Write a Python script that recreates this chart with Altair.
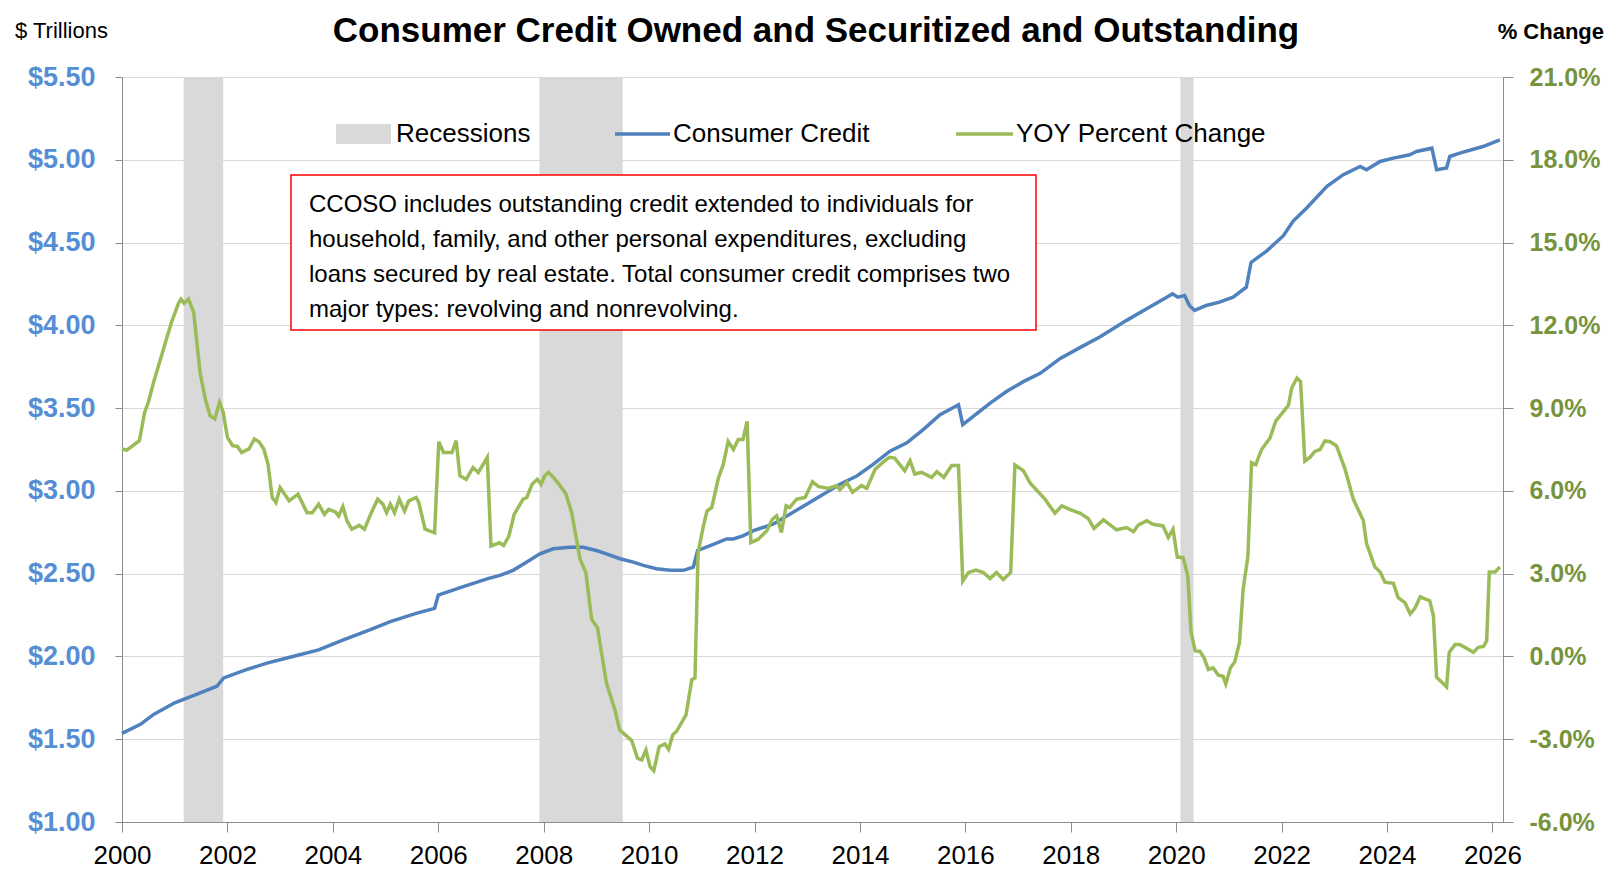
import altair as alt
import pandas as pd

# ---------------- data ----------------
cc_year = [2000.0, 2000.35, 2000.6, 2001.0, 2001.4, 2001.8, 2001.93, 2002.36, 2002.75, 2003.24,
           2003.73, 2004.2, 2004.7, 2005.09, 2005.58, 2005.93, 2006.0, 2006.46, 2006.94, 2007.17,
           2007.42, 2007.68, 2007.93, 2008.18, 2008.5, 2008.75, 2009.0, 2009.19, 2009.45, 2009.7,
           2009.89, 2010.14, 2010.4, 2010.65, 2010.84, 2010.92, 2011.16, 2011.47, 2011.6, 2011.79,
           2011.98, 2012.36, 2012.99, 2013.62, 2013.94, 2014.25, 2014.57, 2014.89, 2015.2, 2015.52,
           2015.87, 2015.95, 2016.15, 2016.47, 2016.78, 2017.1, 2017.42, 2017.8, 2018.2, 2018.55,
           2019.06, 2019.44, 2019.82, 2019.93, 2020.03, 2020.16, 2020.25, 2020.35, 2020.57, 2020.82,
           2021.08, 2021.33, 2021.42, 2021.72, 2022.03, 2022.22, 2022.48, 2022.86, 2023.17, 2023.49,
           2023.61, 2023.87, 2024.12, 2024.43, 2024.56, 2024.85, 2024.94, 2025.13, 2025.19, 2025.38,
           2025.82, 2026.14]
cc_value = [1.535, 1.59, 1.65, 1.72, 1.77, 1.82, 1.87, 1.92, 1.96, 2.00,
            2.04, 2.10, 2.16, 2.21, 2.26, 2.29, 2.37, 2.42, 2.47, 2.49,
            2.52, 2.57, 2.62, 2.65, 2.66, 2.66, 2.64, 2.62, 2.59, 2.57,
            2.55, 2.53, 2.52, 2.52, 2.54, 2.64, 2.67, 2.71, 2.71, 2.73,
            2.76, 2.80, 2.92, 3.04, 3.09, 3.16, 3.24, 3.29, 3.37, 3.46,
            3.52, 3.40, 3.45, 3.53, 3.60, 3.66, 3.71, 3.80, 3.87, 3.93,
            4.03, 4.10, 4.17, 4.19, 4.17, 4.18, 4.12, 4.09, 4.12, 4.14,
            4.17, 4.23, 4.38, 4.45, 4.54, 4.63, 4.71, 4.84, 4.91, 4.96,
            4.94, 4.99, 5.01, 5.03, 5.05, 5.07, 4.94, 4.95, 5.02, 5.04,
            5.08, 5.12]

yoy_year = [2000.0, 2000.09, 2000.33, 2000.43, 2000.5, 2000.6, 2000.77, 2000.94, 2001.07, 2001.12,
            2001.18, 2001.26, 2001.36, 2001.48, 2001.58, 2001.67, 2001.76, 2001.85, 2001.92, 2002.0,
            2002.1, 2002.19, 2002.27, 2002.41, 2002.51, 2002.6, 2002.69, 2002.77, 2002.85, 2002.92,
            2003.0, 2003.17, 2003.34, 2003.51, 2003.61, 2003.73, 2003.84, 2003.92, 2004.05, 2004.11,
            2004.19, 2004.27, 2004.36, 2004.5, 2004.6, 2004.73, 2004.85, 2004.95, 2005.02, 2005.09,
            2005.17, 2005.26, 2005.36, 2005.44, 2005.58, 2005.63, 2005.75, 2005.93, 2006.01, 2006.1,
            2006.26, 2006.34, 2006.41, 2006.53, 2006.66, 2006.76, 2006.93, 2007.0, 2007.16, 2007.24,
            2007.34, 2007.44, 2007.61, 2007.68, 2007.78, 2007.88, 2007.95, 2008.02, 2008.09, 2008.19,
            2008.31, 2008.42, 2008.53, 2008.69, 2008.8, 2008.91, 2009.02, 2009.19, 2009.35, 2009.44,
            2009.67, 2009.78, 2009.86, 2009.94, 2010.02, 2010.09, 2010.19, 2010.3, 2010.37, 2010.45,
            2010.52, 2010.7, 2010.81, 2010.87, 2010.93, 2011.03, 2011.1, 2011.19, 2011.31, 2011.41,
            2011.5, 2011.6, 2011.69, 2011.78, 2011.86, 2011.93, 2012.07, 2012.23, 2012.34, 2012.42,
            2012.51, 2012.6, 2012.67, 2012.8, 2012.96, 2013.1, 2013.21, 2013.4, 2013.56, 2013.62,
            2013.75, 2013.86, 2014.03, 2014.13, 2014.29, 2014.44, 2014.56, 2014.66, 2014.85, 2014.95,
            2015.04, 2015.17, 2015.36, 2015.46, 2015.59, 2015.74, 2015.87, 2015.95, 2016.06, 2016.2,
            2016.34, 2016.47, 2016.59, 2016.72, 2016.86, 2016.94, 2017.1, 2017.23, 2017.51, 2017.7,
            2017.83, 2017.99, 2018.18, 2018.33, 2018.44, 2018.62, 2018.87, 2019.06, 2019.19, 2019.28,
            2019.44, 2019.56, 2019.75, 2019.85, 2019.94, 2020.02, 2020.13, 2020.22, 2020.28, 2020.36,
            2020.45, 2020.53, 2020.61, 2020.70, 2020.8, 2020.89, 2020.94, 2021.03, 2021.11, 2021.2,
            2021.27, 2021.36, 2021.43, 2021.51, 2021.62, 2021.78, 2021.89, 2022.0, 2022.13, 2022.19,
            2022.29, 2022.36, 2022.44, 2022.54, 2022.63, 2022.73, 2022.82, 2022.92, 2023.04, 2023.2,
            2023.36, 2023.55, 2023.61, 2023.77, 2023.87, 2023.96, 2024.12, 2024.21, 2024.34, 2024.44,
            2024.53, 2024.63, 2024.72, 2024.81, 2024.88, 2024.94, 2025.13, 2025.18, 2025.29, 2025.38,
            2025.64, 2025.73, 2025.83, 2025.89, 2025.94, 2026.05, 2026.14]
yoy_value = [7.52, 7.48, 7.82, 8.85, 9.21, 9.94, 11.03, 12.12, 12.79, 12.95,
             12.8, 12.95, 12.48, 10.3, 9.33, 8.73, 8.61, 9.21, 8.85, 7.94,
             7.64, 7.61, 7.39, 7.52, 7.88, 7.78, 7.52, 6.97, 5.76, 5.58,
             6.12, 5.64, 5.88, 5.21, 5.21, 5.52, 5.15, 5.33, 5.24, 5.09,
             5.43, 4.91, 4.61, 4.75, 4.61, 5.21, 5.70, 5.52, 5.21, 5.52,
             5.21, 5.70, 5.27, 5.64, 5.76, 5.58, 4.61, 4.48, 7.78, 7.39,
             7.39, 7.82, 6.55, 6.42, 6.85, 6.67, 7.21, 4.0, 4.12, 4.02,
             4.36, 5.15, 5.70, 5.76, 6.24, 6.42, 6.24, 6.55, 6.67, 6.48,
             6.19, 5.9, 5.22, 3.52, 3.04, 1.34, 1.04, -0.96, -1.93, -2.66,
             -3.05, -3.69, -3.75, -3.39, -4.0, -4.14, -3.27, -3.17, -3.36, -2.84,
             -2.72, -2.12, -0.84, -0.78, 3.76, 4.73, 5.28, 5.4, 6.43, 6.98,
             7.79, 7.5, 7.86, 7.86, 8.52, 4.13, 4.25, 4.55, 4.98, 5.1,
             4.49, 5.46, 5.4, 5.7, 5.76, 6.33, 6.16, 6.09, 6.19, 6.04,
             6.31, 5.95, 6.19, 6.09, 6.79, 7.04, 7.22, 7.19, 6.73, 7.1,
             6.61, 6.67, 6.49, 6.7, 6.49, 6.92, 6.92, 2.73, 3.04, 3.13,
             3.04, 2.82, 3.04, 2.79, 3.04, 6.94, 6.73, 6.28, 5.7, 5.19,
             5.46, 5.32, 5.19, 5.0, 4.64, 4.95, 4.59, 4.67, 4.52, 4.76,
             4.92, 4.79, 4.73, 4.31, 4.61, 3.6, 3.58, 2.92, 0.9, 0.2,
             0.19, -0.06, -0.47, -0.41, -0.68, -0.72, -1.0, -0.41, -0.2, 0.5,
             2.44, 3.62, 7.02, 6.95, 7.5, 7.92, 8.54, 8.79, 9.1, 9.72,
             10.09, 9.96, 7.08, 7.22, 7.43, 7.5, 7.81, 7.78, 7.64, 6.81,
             5.70, 4.93, 4.10, 3.24, 3.06, 2.69, 2.65, 2.13, 1.95, 1.54,
             1.75, 2.16, 2.09, 2.02, 1.47, -0.75, -1.1, 0.15, 0.43, 0.43,
             0.15, 0.33, 0.36, 0.57, 3.06, 3.06, 3.24]

rec_start = [2001.17, 2007.92, 2020.08]
rec_end = [2001.92, 2009.5, 2020.33]

left_ticks = [1.0, 1.5, 2.0, 2.5, 3.0, 3.5, 4.0, 4.5, 5.0, 5.5]
right_ticks = [-6, -3, 0, 3, 6, 9, 12, 15, 18, 21]
x_ticks = list(range(2000, 2027, 2))

title_text = "Consumer Credit Owned and Securitized and Outstanding"
note_lines = [
    "CCOSO includes outstanding credit extended to individuals for",
    "household, family, and other personal expenditures, excluding",
    "loans secured by real estate. Total consumer credit comprises two",
    "major types: revolving and nonrevolving.",
]

# ---------------- style ----------------
FONT = "Liberation Sans"
BLUE = "#4F81BD"
GREEN = "#9BBB59"
BLUE_LBL = "#558ED5"
GREEN_LBL = "#77933C"
REC = "#D9D9D9"
AXIS = "#8C8C8C"
W, H = 1381, 745

cc_df = pd.DataFrame({"year": cc_year, "value": cc_value})
yoy_df = pd.DataFrame({"year": yoy_year, "value": yoy_value})
rec_df = pd.DataFrame({"start": rec_start, "end": rec_end, "top": 5.5, "bottom": 1.0})

xscale = alt.Scale(domain=[2000, 2026.2], nice=False, zero=False)
xaxis = alt.Axis(values=x_ticks, format="d", title=None, grid=False,
                 labelFont=FONT, labelFontSize=26, labelColor="black",
                 tickSize=10, tickColor=AXIS, domainColor=AXIS, labelPadding=10,
                 labelFlush=False)

left_scale = alt.Scale(domain=[1.0, 5.5], nice=False, zero=False)
left_axis = alt.Axis(values=left_ticks, format="$.2f", title=None, orient="left",
                     labelFont=FONT, labelFontSize=27, labelFontWeight="bold",
                     labelColor=BLUE_LBL, tickSize=7, tickColor=AXIS,
                     domainColor=AXIS, gridColor="#D9D9D9", grid=True, labelPadding=20)
right_axis = alt.Axis(values=right_ticks, title=None, orient="right",
                      labelExpr="replace(format(datum.value, '.1f'), '\u2212', '-') + '%'",
                      labelFont=FONT, labelFontSize=25, labelFontWeight="bold",
                      labelColor=GREEN_LBL, tickSize=10, tickColor=AXIS,
                      domainColor=AXIS, grid=False, labelPadding=16)

rec = alt.Chart(rec_df).mark_rect(color=REC).encode(
    x=alt.X("start:Q", scale=xscale, axis=xaxis),
    x2="end:Q",
    y=alt.Y("top:Q", scale=left_scale, axis=left_axis),
    y2="bottom:Q",
)

blue = alt.Chart(cc_df).mark_line(color=BLUE, strokeWidth=3.5).encode(
    x=alt.X("year:Q", scale=xscale, axis=xaxis),
    y=alt.Y("value:Q", scale=left_scale, axis=left_axis),
)

green = alt.Chart(yoy_df).mark_line(color=GREEN, strokeWidth=3.5).encode(
    x=alt.X("year:Q", scale=xscale, axis=xaxis),
    y=alt.Y("value:Q", scale=alt.Scale(domain=[-6, 21], nice=False, zero=False),
            axis=right_axis),
)

one = pd.DataFrame({"k": [0]})


def text(t, x, y, size, weight="normal", align="left", baseline="alphabetic", color="black"):
    return alt.Chart(one).mark_text(
        text=t, font=FONT, fontSize=size, fontWeight=weight, align=align,
        baseline=baseline, color=color
    ).encode(x=alt.value(x), y=alt.value(y))


# legend
leg_rect = alt.Chart(one).mark_rect(color=REC).encode(
    x=alt.value(214), x2=alt.value(269), y=alt.value(47), y2=alt.value(67))
leg_blue = alt.Chart(one).mark_rule(color=BLUE, strokeWidth=3.5).encode(
    x=alt.value(493), x2=alt.value(548), y=alt.value(57))
leg_green = alt.Chart(one).mark_rule(color=GREEN, strokeWidth=3.5).encode(
    x=alt.value(834), x2=alt.value(891), y=alt.value(57))
leg_texts = [
    text("Recessions", 274, 57, 26, baseline="middle"),
    text("Consumer Credit", 551, 57, 26, baseline="middle"),
    text("YOY Percent Change", 894, 57, 26, baseline="middle"),
]

# note box
note_box = alt.Chart(one).mark_rect(fill="white", stroke="#FF0000", strokeWidth=1.5).encode(
    x=alt.value(169), x2=alt.value(914), y=alt.value(98), y2=alt.value(253))
note_texts = [text(line, 187, yy, 24, baseline="middle")
              for line, yy in zip(note_lines, [128, 163, 198, 233])]

head_texts = [
    text(title_text, 694, -35, 35, weight="bold", align="center"),
    text("$ Trillions", -107, -39, 22),
    text("% Change", 1482, -38, 22, weight="bold", align="right"),
]

base = alt.layer(rec, blue)
chart = alt.layer(base, green).resolve_scale(y="independent")
chart = alt.layer(chart, leg_rect, leg_blue, leg_green, *leg_texts, note_box, *note_texts,
                  *head_texts).properties(
    width=W, height=H,
    autosize=alt.AutoSizeParams(type="none"),
    padding={"left": 114, "top": 69, "right": 101, "bottom": 47},
).configure_view(stroke=None).configure(background="white")

chart.save("out.html", embed_options={"renderer": "svg", "actions": False})
